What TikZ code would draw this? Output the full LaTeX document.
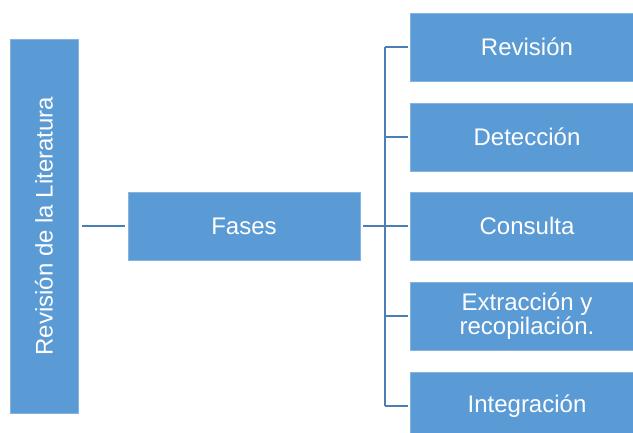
\documentclass[tikz,border=0pt]{standalone}
\usepackage{fontspec}
\setmainfont{Liberation Sans}
\definecolor{boxfill}{HTML}{5B9BD5}
\definecolor{boxedge}{HTML}{86B4E0}
\definecolor{linkcol}{HTML}{4A7FB5}
\begin{document}
\begin{tikzpicture}[x=1pt,y=-1pt,
  phasebox/.style={rectangle, fill=boxfill, draw=boxedge, line width=0.8pt,
    text=white, align=center, inner sep=0pt,
    font=\fontsize{24}{24}\selectfont},
  link/.style={draw=linkcol, line width=2.2pt}]
\useasboundingbox (0,0) rectangle (633,432);
\clip (0,0) rectangle (633,432);
% root box with vertical title
\node[phasebox, minimum width=68pt, minimum height=374pt] (root) at (44,226) {};
\node[text=white, rotate=90, font=\fontsize{24}{24}\selectfont] (roottxt) at (root.center) {Revisión de la Literatura};
% middle box
\node[phasebox, minimum width=232pt, minimum height=68pt] (fases) at (244,226) {Fases};
% phase boxes (the column runs past the right edge)
\node[phasebox, minimum width=234pt, minimum height=68pt] (p1) at (527,47) {Revisión};
\node[phasebox, minimum width=234pt, minimum height=68pt] (p2) at (527,137) {Detección};
\node[phasebox, minimum width=234pt, minimum height=68pt] (p3) at (527,226) {Consulta};
\node[phasebox, minimum width=234pt, minimum height=68pt] (p4) at (527,316) {Extracción y\\recopilación.};
\node[phasebox, minimum width=234pt, minimum height=68pt] (p5) at (527,406) {Integración};
% connectors
\coordinate (trunk) at (385,226);
\draw[link] ([xshift=4pt]root.east) -- ([xshift=-3pt]fases.west);
\draw[link] ([xshift=3pt]fases.east) -- (trunk);
\draw[link] (trunk |- p1) -- (trunk |- p5);
\foreach \p in {p1,p2,p3,p4,p5}
  \draw[link] (trunk |- \p) -- ([xshift=-2pt]\p.west);
\end{tikzpicture}
\end{document}
